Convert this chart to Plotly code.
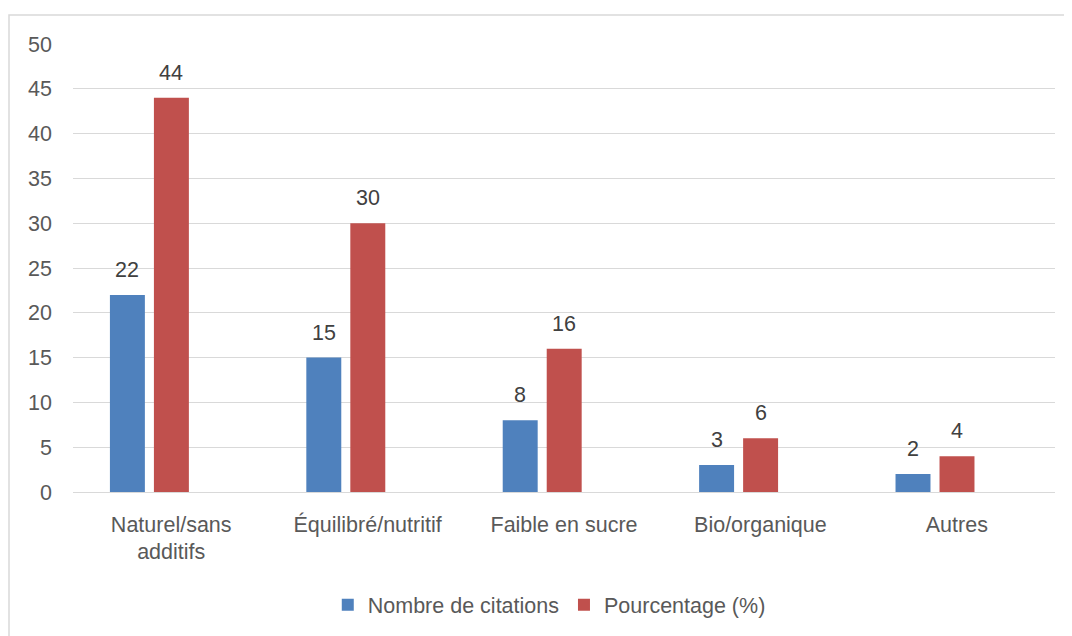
import plotly.graph_objects as go

categories = ["Naturel/sans<br>additifs", "Équilibré/nutritif", "Faible en sucre", "Bio/organique", "Autres"]
nombre_citations = [22, 15, 8, 3, 2]
pourcentage = [44, 30, 16, 6, 4]
y_ticks = [0, 5, 10, 15, 20, 25, 30, 35, 40, 45, 50]

BLUE = "#4F81BD"
RED = "#C0504D"
TXT = "#595959"
FONT = "Liberation Sans"
FS = 21.5
W = 0.178
OFF_BLUE = -0.312
OFF_RED = -0.088

fig = go.Figure()
fig.add_trace(go.Bar(
    x=categories, y=nombre_citations, name="Nombre de citations",
    marker=dict(color=BLUE, line=dict(width=0)),
    width=W, offset=OFF_BLUE,
))
fig.add_trace(go.Bar(
    x=categories, y=pourcentage, name="Pourcentage (%)",
    marker=dict(color=RED, line=dict(width=0)),
    width=W, offset=OFF_RED,
))

annotations = []
for i, (a, b) in enumerate(zip(nombre_citations, pourcentage)):
    for val, off in ((a, OFF_BLUE), (b, OFF_RED)):
        annotations.append(dict(
            x=i + off + W / 2, y=val, xref="x", yref="y", text=str(val),
            showarrow=False, yshift=25, yanchor="middle", xanchor="center",
            font=dict(family=FONT, size=FS, color="#404040"),
        ))

# page body has an 8px offset; compensate
fig.update_layout(
    width=1072, height=636,
    margin=dict(l=65, r=25, t=36, b=152),
    paper_bgcolor="white", plot_bgcolor="white",
    font=dict(family=FONT, size=FS, color=TXT),
    barmode="group",
    showlegend=True,
    legend=dict(orientation="h", x=0.485, xanchor="center", y=-0.252, yanchor="middle",
                font=dict(family=FONT, size=FS, color=TXT), traceorder="normal",
                itemwidth=30),
    xaxis=dict(range=[-0.5, 4.5], showgrid=False, showline=False, ticks="",
               tickfont=dict(family=FONT, size=FS, color=TXT), ticklabelstandoff=17),
    yaxis=dict(range=[0, 50], tickvals=y_ticks, showgrid=True, gridcolor="#D9D9D9", gridwidth=1,
               zeroline=True, zerolinecolor="#D9D9D9", zerolinewidth=1, showline=False,
               ticks="", tickfont=dict(family=FONT, size=FS, color=TXT), ticklabelstandoff=20),
    annotations=annotations,
    shapes=[dict(type="rect", xref="paper", yref="paper",
                 x0=(9 - 73) / 982, x1=(1090 - 73) / 982,
                 y0=(492 - 660) / 448, y1=(492 - 15) / 448,
                 line=dict(color="#D9D9D9", width=1.5), fillcolor="rgba(0,0,0,0)", layer="below")],
)

fig.write_html("out.html")
